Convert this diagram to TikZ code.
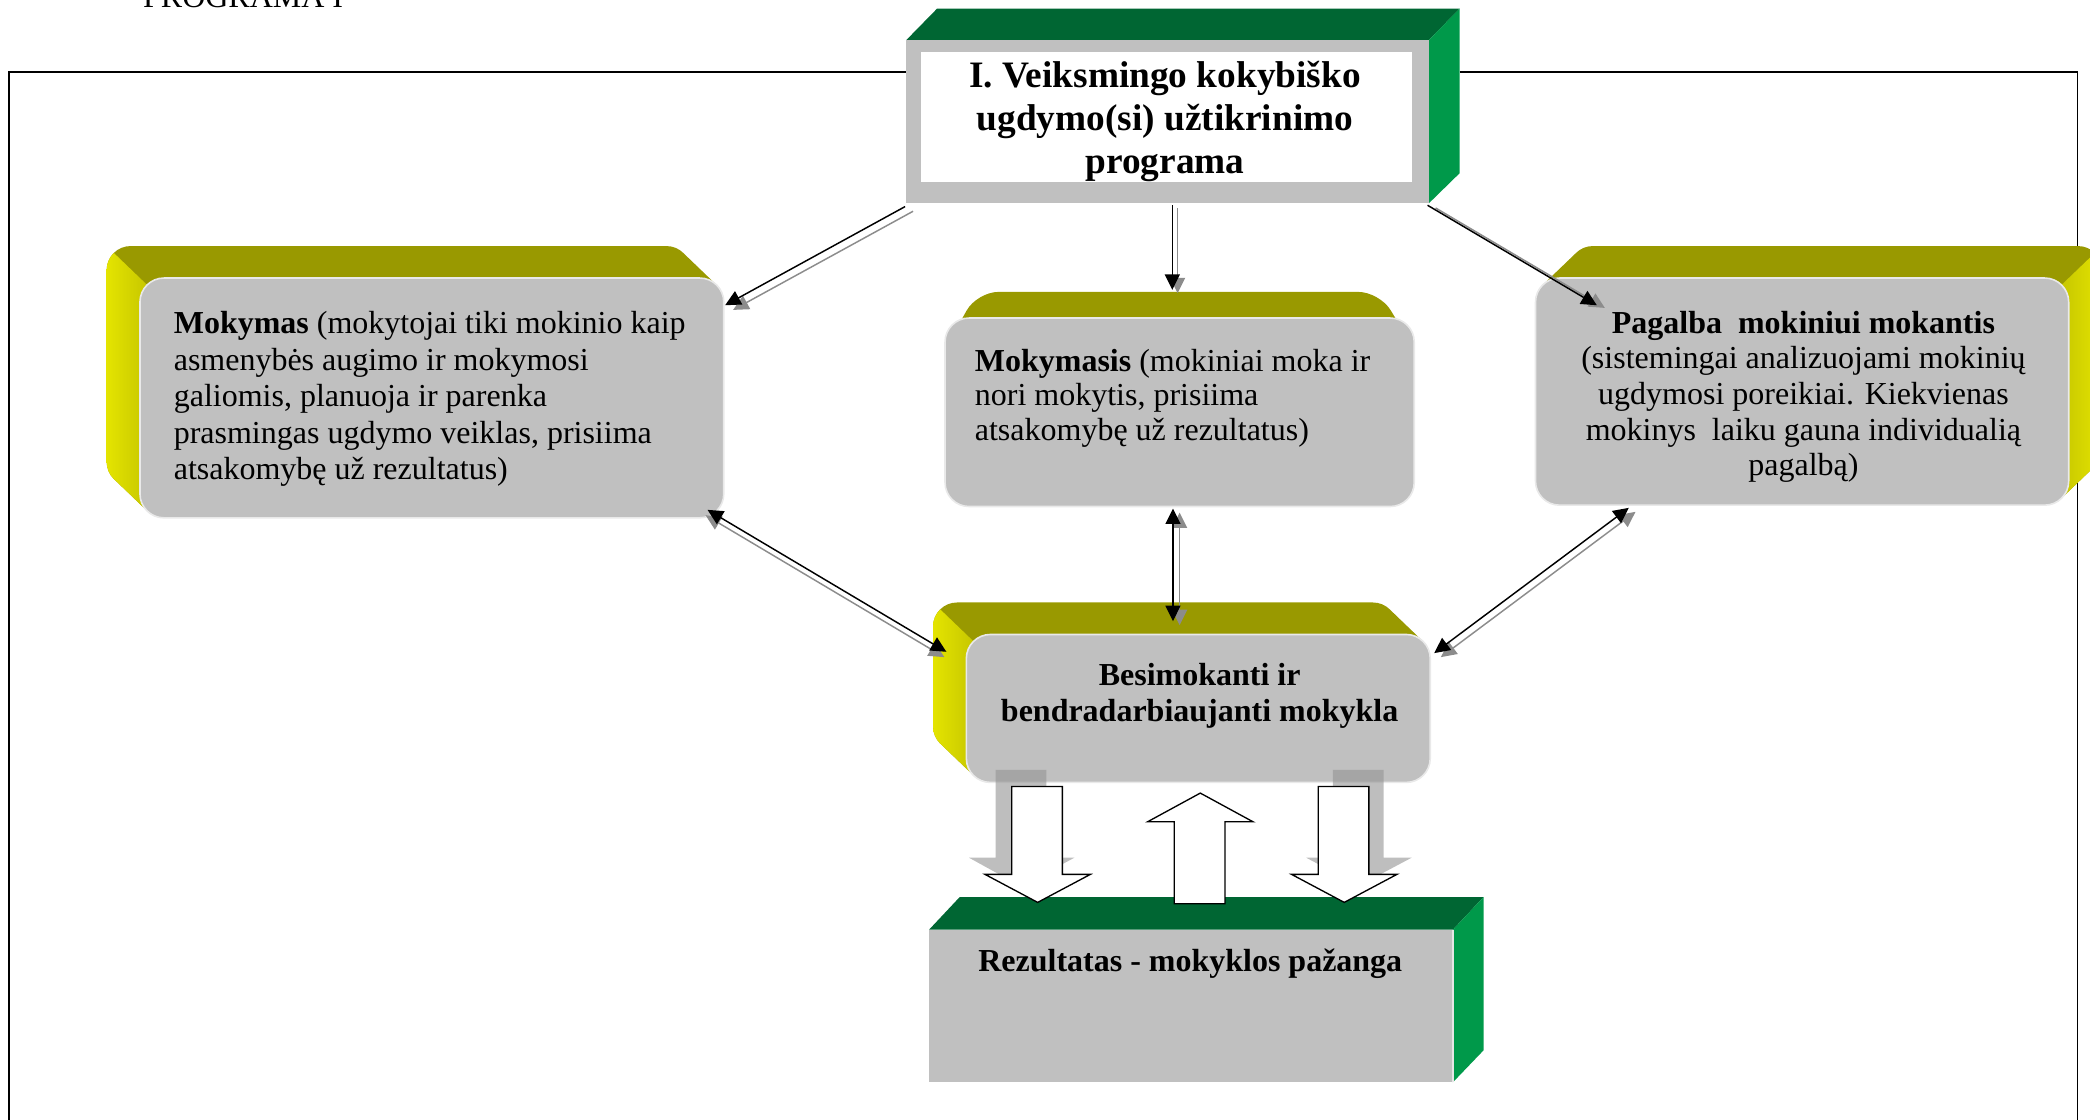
\documentclass[tikz,border=0pt]{standalone}
\usepackage{fontspec}
\setmainfont{Liberation Serif}
\usetikzlibrary{arrows.meta,calc}
\definecolor{facegray}{HTML}{C0C0C0}
\definecolor{dkgreen}{HTML}{006633}
\definecolor{brgreen}{HTML}{00994A}
\definecolor{olivetop}{HTML}{999900}
\definecolor{ylwbright}{HTML}{E4E400}
\definecolor{ylwdark}{HTML}{B4B400}
\definecolor{shadowgray}{HTML}{939393}
\definecolor{linegray}{HTML}{8C8C8C}
\newcommand{\fl}{\rule{0pt}{10pt}}
\newcommand{\hullpath}[6]{\foreach \t in {0,...,25} {({#1+(#5)*\t/25},{#2+(#6)*\t/25}) rectangle ({#3+(#5)*\t/25},{#4+(#6)*\t/25})}}
\newcommand{\dblconn}[5]{%
  \draw[conn, draw=linegray, #3] ($(#1)+(#4,#5)$) -- ($(#2)+(#4,#5)$);
  \draw[conn, #3] (#1) -- (#2);}
\begin{document}
\begin{tikzpicture}[x=0.5pt,y=-0.5pt,
  face/.style={fill=facegray, draw=white!65!facegray, line width=0.6pt, rounded corners=9pt},
  conn/.style={line width=0.55pt},
  sgl/.style={-{Triangle[length=5.8pt,width=5.6pt]}},
  dbl/.style={{Triangle[length=5.8pt,width=5.6pt]}-{Triangle[length=5.8pt,width=5.6pt]}},
  blockarrow/.style={fill=white, draw=black, line width=0.5pt},
  txt/.style={inner sep=0pt, font=\fontsize{12}{13.5}\selectfont}]
\useasboundingbox (0,0) rectangle (1568,840);
\clip (0,0) rectangle (1568,840);

% heading
\node[txt, anchor=base west] (prog) at (107,6) {PROGRAMA I};

% frame
\draw[line width=0.7pt] (680,54) -- (7,54) -- (7,860);
\draw[line width=0.7pt] (1095,54) -- (1558.6,54) -- (1558.6,860);

% title box
\fill[dkgreen] (680,30) -- (703,6.5) -- (1095,6.5) -- (1072,30) -- cycle;
\fill[brgreen] (1072,30) -- (1095,6.5) -- (1095,130) -- (1072,152.5) -- cycle;
\fill[facegray] (680,30) rectangle (1072,152.5);
\fill[white] (691,39) rectangle (1059,136.5);
\node[inner sep=0pt, anchor=north, align=center, font=\fontsize{14}{16.2}\selectfont\bfseries] (title) at (874,45)
  {\fl I. Veiksmingo kokybiško\\ugdymo(si) užtikrinimo\\programa};

% Mokymas box
\fill[olivetop, rounded corners=9pt] \hullpath{105}{208.6}{543}{388.5}{-25}{-24};
\begin{scope}
  \clip (0,107.8) -- (130,232.6) -- (130,900) -- (0,900) -- cycle;
  \clip[rounded corners=9pt] \hullpath{105}{208.6}{543}{388.5}{-25}{-24};
  \shade[left color=ylwbright, right color=ylwdark] (80,150) rectangle (130,420);
\end{scope}
\path[face] (105,208.6) rectangle (543,388.5);
\node[txt, anchor=north west, align=left, font=\fontsize{12}{13.7}\selectfont] (mokymas) at (130,230)
  {\fl\textbf{Mokymas} (mokytojai tiki mokinio kaip\\asmenybės augimo ir mokymosi\\galiomis, planuoja ir parenka\\prasmingas ugdymo veiklas, prisiima\\atsakomybę už rezultatus)};

% Mokymasis box
\fill[olivetop, rounded corners=8pt] (709,262) -- (733,219) -- (1035,219) -- (1061,262) -- cycle;
\path[face] (709,238.6) rectangle (1061,380);
\node[txt, anchor=north west, align=left, font=\fontsize{12}{13}\selectfont] (mokymasis) at (731,258)
  {\fl\textbf{Mokymasis} (mokiniai moka ir\\nori mokytis, prisiima\\atsakomybę už rezultatus)};

% Pagalba box
\fill[olivetop, rounded corners=9pt] \hullpath{1152}{208.6}{1552}{379}{25}{-24};
\begin{scope}
  \clip (1527,232.6) -- (1700,66.5) -- (1700,900) -- (1527,900) -- cycle;
  \clip[rounded corners=9pt] \hullpath{1152}{208.6}{1552}{379}{25}{-24};
  \shade[left color=ylwdark, right color=ylwbright] (1527,150) rectangle (1577,420);
\end{scope}
\path[face] (1152,208.6) rectangle (1552,379);
\node[txt, anchor=north, align=center, font=\fontsize{12}{13.4}\selectfont] (pagalba) at (1353,229.5)
  {\fl\textbf{Pagalba\ \ mokiniui mokantis}\\(sistemingai analizuojami mokinių\\ugdymosi poreikiai. Kiekvienas\\mokinys\ \ laiku gauna individualią\\pagalbą)};

% Besimokanti box
\fill[olivetop, rounded corners=9pt] \hullpath{725}{476}{1073}{587}{-25}{-24};
\begin{scope}
  \clip (600,356) -- (750,500) -- (750,900) -- (600,900) -- cycle;
  \clip[rounded corners=9pt] \hullpath{725}{476}{1073}{587}{-25}{-24};
  \shade[left color=ylwbright, right color=ylwdark] (700,400) rectangle (750,620);
\end{scope}
\path[face] (725,476) rectangle (1073,587);
\node[txt, anchor=north, align=center, font=\fontsize{12}{13.3}\selectfont\bfseries] (besim) at (900,494)
  {\fl Besimokanti ir\\bendradarbiaujanti mokykla};

% Rezultatas box
\fill[dkgreen] (697,697.5) -- (720,673) -- (1113,673) -- (1090,697.5) -- cycle;
\fill[brgreen] (1090,697.5) -- (1113,673) -- (1113,788) -- (1090,812) -- cycle;
\fill[facegray] (697,697.5) rectangle (1090,812);
\draw[white!60!facegray, line width=0.5pt] (1090,697.5) -- (1090,812);
\node[txt, anchor=base, font=\fontsize{12}{13.5}\selectfont\bfseries] (rez) at (893,728.7)
  {Rezultatas - mokyklos pažanga};

% block arrow shadows
\fill[shadowgray, opacity=0.6] (747,577.5) -- (785,577.5) -- (785,643.5) -- (806,643.5) -- (766,665) -- (727,643.5) -- (747,643.5) -- cycle;
\fill[shadowgray, opacity=0.6] (1000,577.5) -- (1038,577.5) -- (1038,643.5) -- (1059,643.5) -- (1019.5,664.5) -- (980,643.5) -- (1000,643.5) -- cycle;
% block arrows
\draw[blockarrow] (759,590) -- (797,590) -- (797,656) -- (818,656) -- (778.5,677) -- (739,656) -- (759,656) -- cycle;
\draw[blockarrow] (989,590) -- (1027,590) -- (1027,656) -- (1048,656) -- (1008.5,677) -- (969,656) -- (989,656) -- cycle;
\draw[blockarrow] (881,678) -- (919,678) -- (919,616.5) -- (940,616.5) -- (900.5,595) -- (861,616.5) -- (881,616.5) -- cycle;

% connector end points
\coordinate (c1s) at (679,155);   \coordinate (c1e) at (544,229);
\coordinate (c2s) at (879.5,153.8); \coordinate (c2e) at (879.5,217.5);
\coordinate (c3s) at (1071,154);  \coordinate (c3e) at (1198,229);
\coordinate (c4s) at (530.8,382.5); \coordinate (c4e) at (710,489);
\coordinate (c5s) at (880,381.5); \coordinate (c5e) at (880,466);
\coordinate (c6s) at (1222,381);  \coordinate (c6e) at (1076,490);

\dblconn{c1s}{c1e}{sgl}{6}{3.5}
\dblconn{c2s}{c2e}{sgl}{4}{2.5}
\dblconn{c3s}{c3e}{sgl}{6}{2}
\dblconn{c4s}{c4e}{dbl}{-1.5}{4}
\dblconn{c5s}{c5e}{dbl}{5}{3}
\dblconn{c6s}{c6e}{dbl}{5}{3}
\end{tikzpicture}
\end{document}
